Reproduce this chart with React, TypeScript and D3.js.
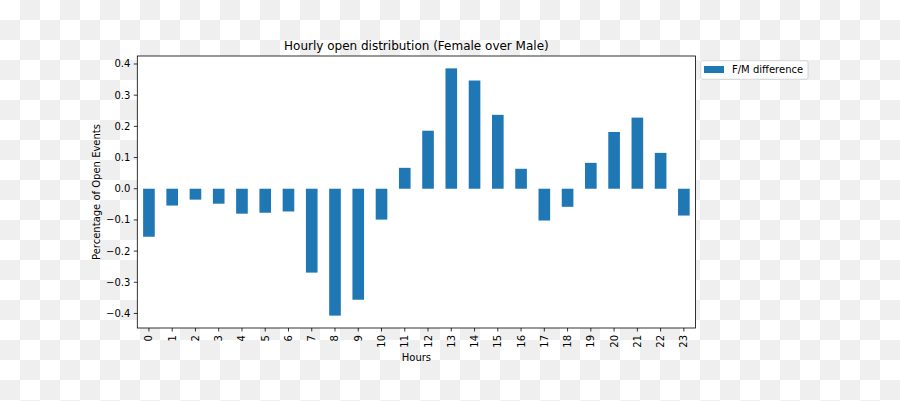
import React from "react";
import * as d3 from "d3";

const hours: string[] = Array.from({ length: 24 }, (_, i) => String(i));
const diffValues: number[] = [
  -0.154, -0.054, -0.035, -0.048, -0.08, -0.077, -0.073, -0.269,
  -0.407, -0.356, -0.099, 0.067, 0.186, 0.386, 0.347, 0.237,
  0.064, -0.102, -0.058, 0.083, 0.182, 0.228, 0.115, -0.086,
];
const yTicks: number[] = [-0.4, -0.3, -0.2, -0.1, 0.0, 0.1, 0.2, 0.3, 0.4];
const seriesName = "F/M difference";
const title = "Hourly open distribution (Female over Male)";
const xLabel = "Hours";
const yLabel = "Percentage of Open Events";

const W = 900;
const H = 401;
const left = 137.3;
const right = 695.5;
const top = 56;
const bottom = 328;
const font = "DejaVu Sans, sans-serif";
const barColor = "#1f77b4";

export default function App() {
  const mn = d3.min(diffValues)!;
  const mx = d3.max(diffValues)!;
  const pad = (mx - mn) * 0.05;
  const y = d3.scaleLinear().domain([mn - pad, mx + pad]).range([bottom, top]);
  const x = d3.scaleBand<string>().domain(hours).range([left, right]).paddingInner(0.5).paddingOuter(0.25);
  const y0 = y(0);
  const cx = (left + right) / 2;

  return (
    <svg width={W} height={H} style={{ position: "absolute", left: 0, top: 0 }} fontFamily={font}>
      <defs>
        <pattern id="checker" width={40} height={40} patternUnits="userSpaceOnUse">
          <rect width={40} height={40} fill="#ffffff" />
          <rect x={20} y={0} width={20} height={20} fill="#efefef" />
          <rect x={0} y={20} width={20} height={20} fill="#efefef" />
        </pattern>
      </defs>
      <rect width={W} height={H} fill="url(#checker)" />
      <rect x={left} y={top} width={right - left} height={bottom - top} fill="#ffffff" />
      {diffValues.map((v, i) => (
        <rect
          key={i}
          x={x(hours[i])!}
          width={x.bandwidth()}
          y={Math.min(y(v), y0)}
          height={Math.abs(y(v) - y0)}
          fill={barColor}
        />
      ))}
      <rect x={left} y={top} width={right - left} height={bottom - top} fill="none" stroke="#000" strokeWidth={0.8} />
      {yTicks.map((t) => (
        <g key={t} transform={`translate(0,${y(t)})`}>
          <line x1={left - 3.5} x2={left} stroke="#000" strokeWidth={0.8} />
          <text x={left - 7} dy="0.35em" textAnchor="end" fontSize={10} fill="#000">
            {t === 0 ? "0.0" : d3.format(".1f")(t).replace("-", "\u2212")}
          </text>
        </g>
      ))}
      {hours.map((h) => {
        const xc = x(h)! + x.bandwidth() / 2;
        return (
          <g key={h}>
            <line x1={xc} x2={xc} y1={bottom} y2={bottom + 3.5} stroke="#000" strokeWidth={0.8} />
            <text
              transform={`translate(${xc},${bottom + 7}) rotate(-90)`}
              textAnchor="end"
              dy="0.35em"
              fontSize={10}
              fill="#000"
            >
              {h}
            </text>
          </g>
        );
      })}
      <text x={cx} y={50} textAnchor="middle" fontSize={12} fill="#000">
        {title}
      </text>
      <text x={cx} y={361} textAnchor="middle" fontSize={10} fill="#000">
        {xLabel}
      </text>
      <text transform={`translate(99.5,${(top + bottom) / 2}) rotate(-90)`} textAnchor="middle" fontSize={10} fill="#000">
        {yLabel}
      </text>
      <g>
        <rect x={700.7} y={60.7} width={107.3} height={18.6} rx={2} fill="#ffffff" fillOpacity={0.8} stroke="#cccccc" strokeWidth={0.8} />
        <rect x={704} y={66} width={20} height={7} fill={barColor} />
        <text x={732} y={73.3} fontSize={10} fill="#000">
          {seriesName}
        </text>
      </g>
    </svg>
  );
}
